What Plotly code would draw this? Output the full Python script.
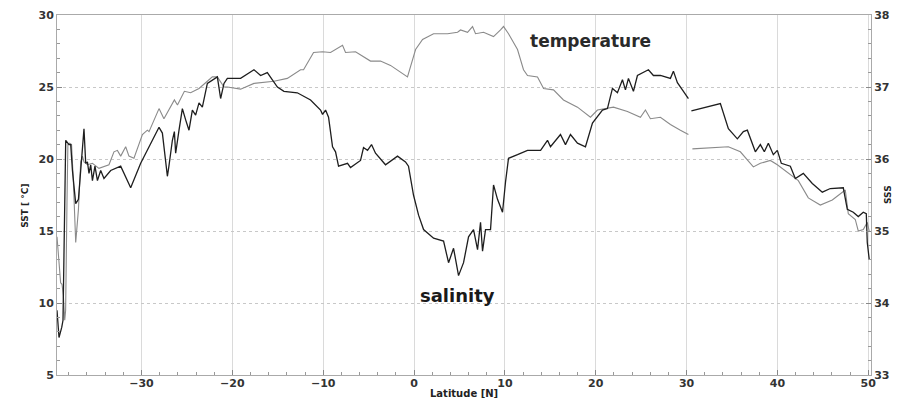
import plotly.graph_objects as go

# ---- data ----
temp_lat = [-39.3, -39.1, -38.9, -38.75, -38.6, -38.45, -38.35, -38.2, -38.1, -37.9, -37.7, -37.5,
            -37.24, -36.94, -36.69, -36.5, -36.33, -35.95, -35.4, -34.68, -34.13, -33.58, -33.03,
            -32.65, -32.29, -31.74, -31.38, -30.83, -29.9, -29.35, -29.17, -28.62, -28.07, -27.53,
            -26.38, -26.04, -25.28, -24.59, -23.67, -22.75, -22.2, -21.65, -20.92, -20.55, -19.09,
            -17.62, -15.42, -13.95, -12.49, -12.16, -11.39, -11.06, -10.07, -9.19, -7.87, -7.54,
            -6.44, -4.79, -3.69, -2.59, -0.72, 0.17, 0.94, 2.15, 3.69, 4.79, 5.12, 5.89, 6.44, 6.77,
            7.65, 8.75, 9.52, 9.85, 10.4, 11.39, 12.05, 12.49, 13.59, 14.26, 15.35, 16.45, 17.99,
            19.42, 20.19, 21.29, 21.95, 23.49, 24.92, 25.47, 26.02, 27.12, 28.22, 29.32, 30.2,
            30.4,
            30.64, 33.72, 34.6, 35.92, 37.35, 38.12, 39.22, 39.99, 41.09, 42.3, 43.4, 44.72, 46.04,
            46.92, 47.47, 47.8, 48.57, 48.9, 49.45, 49.89, 50.1]
temp_val = [14.6, 12.6, 11.4, 11.3, 10.5, 8.8, 9.5, 17.0, 21.0, 21.1, 21.0, 18.5,
            14.2, 16.5, 19.8, 20.2, 19.8, 19.6, 19.7, 19.35, 19.5, 19.6, 20.5,
            20.6, 20.2, 20.85, 20.2, 20.05, 21.7, 22.0, 21.9, 22.7, 23.5, 22.8,
            24.1, 23.75, 24.7, 24.6, 24.9, 25.4, 25.7, 25.7, 25.0, 25.0, 24.85,
            25.25, 25.4, 25.6, 26.2, 26.2, 27.1, 27.4, 27.45, 27.4, 27.9, 27.4,
            27.45, 26.8, 26.8, 26.5, 25.7, 27.6, 28.3, 28.7, 28.7, 28.8, 28.96, 28.8, 29.2, 28.7,
            28.8, 28.5, 28.96, 29.2, 28.7, 27.6, 26.2, 25.8, 25.7, 24.9, 24.8, 24.1, 23.6,
            22.9, 23.4, 23.5, 23.6, 23.3, 22.9, 23.4, 22.8, 22.9, 22.4, 22.0, 21.7,
            None,
            20.7, 20.85, 20.85, 20.5, 19.45, 19.7, 19.9, 19.6, 19.1, 18.5, 17.3, 16.8, 17.15,
            17.6, 17.85, 16.2, 15.8, 15.0, 15.1, 15.6, 15.0]

sal_lat = [-39.3, -39.08, -38.78, -38.64, -38.53, -38.42, -38.34, -37.98, -37.79, -37.6, -37.43,
           -37.24, -36.94, -36.69, -36.5, -36.33, -36.14, -35.95, -35.78, -35.59, -35.4, -35.12,
           -34.85, -34.49, -34.13, -33.39, -32.29, -31.19, -30.09, -29.35, -28.62, -28.07, -27.7,
           -27.34, -27.15, -26.98, -26.6, -26.38, -26.24, -25.87, -25.5, -25.13, -24.77, -24.4,
           -24.04, -23.67, -23.3, -22.75, -22.2, -21.65, -21.29, -20.92, -20.55, -19.09, -17.62,
           -16.89, -16.15, -15.04, -14.32, -12.85, -11.39, -10.29, -10.07, -9.74, -9.41, -8.97,
           -8.64, -8.31, -7.32, -6.99, -5.89, -5.56, -5.12, -4.68, -4.24, -3.14, -1.82, -0.94,
           -0.61, -0.06, 0.5, 1.05, 2.15, 3.25, 3.8, 4.35, 4.9, 5.45, 6.0, 6.55, 6.99, 7.32, 7.54,
           7.87, 8.42, 8.75, 9.19, 9.74, 10.07, 10.4, 11.39, 12.49, 13.93, 14.69, 15.02, 16.12,
           16.67, 17.22, 17.99, 18.87, 19.64, 20.74, 21.29, 21.84, 22.39, 22.94, 23.27, 23.6,
           24.15, 24.59, 25.8, 26.35, 27.12, 28.22, 28.55, 28.99, 29.54, 30.2,
           30.4,
           30.53, 33.72, 34.6, 35.59, 36.25, 36.69, 37.57, 38.12, 38.56, 39.0, 39.55, 39.99,
           40.43, 41.42, 41.97, 42.85, 43.84, 44.94, 45.82, 47.25, 47.69, 48.35, 48.9, 49.45,
           49.78, 49.89, 50.11]
sal_val = [33.90, 33.52, 33.66, 33.76, 34.70, 35.62, 36.26, 36.20, 36.20, 35.84, 35.62,
           35.38, 35.44, 35.84, 36.08, 36.42, 35.94, 35.96, 35.80, 35.92, 35.70, 35.90,
           35.70, 35.84, 35.73, 35.84, 35.90, 35.60, 35.94, 36.12, 36.30, 36.44, 36.36,
           35.92, 35.76, 35.90, 36.26, 36.38, 36.08, 36.40, 36.70, 36.54, 36.40, 36.68,
           36.61, 36.78, 36.72, 37.05, 37.10, 37.14, 36.84, 37.05, 37.12, 37.12, 37.24,
           37.16, 37.20, 37.00, 36.94, 36.92, 36.82, 36.68, 36.62, 36.68, 36.58, 36.17,
           36.10, 35.90, 35.94, 35.88, 35.98, 36.16, 36.12, 36.20, 36.08, 35.92, 36.04, 35.96,
           35.90, 35.50, 35.22, 35.02, 34.90, 34.86, 34.56, 34.76, 34.38, 34.56, 34.92, 35.02, 34.74, 35.12, 34.72,
           35.02, 35.02, 35.64, 35.44, 35.26, 35.68, 36.01, 36.06, 36.12, 36.12, 36.26, 36.17, 36.34,
           36.20, 36.34, 36.22, 36.17, 36.50, 36.68, 36.70, 36.98, 36.92, 37.10, 36.96, 37.12,
           36.94, 37.16, 37.24, 37.16, 37.16, 37.12, 37.22, 37.06, 36.96, 36.84,
           None,
           36.67, 36.77, 36.42, 36.28, 36.38, 36.40, 36.10, 36.20, 36.10, 36.22, 36.06, 36.12,
           35.94, 35.90, 35.73, 35.80, 35.66, 35.54, 35.59, 35.60, 35.30, 35.26, 35.20, 35.26,
           35.24, 34.84, 34.60]

x_ticks = [-30, -20, -10, 0, 10, 20, 30, 40, 50]
sst_ticks = [5, 10, 15, 20, 25, 30]
sss_ticks = [33, 34, 35, 36, 37, 38]

FONT = "DejaVu Sans"
tickfont = dict(family=FONT, size=11, color="#333333", weight="bold")

fig = go.Figure()
fig.add_trace(go.Scatter(x=temp_lat, y=temp_val, mode="lines", name="temperature",
                         line=dict(color="#8a8a8a", width=1.1), connectgaps=False))
fig.add_trace(go.Scatter(x=sal_lat, y=sal_val, mode="lines", name="salinity", yaxis="y2",
                         line=dict(color="#1e1e1e", width=1.3), connectgaps=False))

fig.update_layout(
    width=910, height=398,
    margin=dict(l=57, r=39, t=15, b=23, autoexpand=False),
    paper_bgcolor="white", plot_bgcolor="white",
    showlegend=False,
    xaxis=dict(range=[-39.3, 50.3], tickvals=x_ticks, ticks="inside", ticklen=5,
               tickcolor="#888", showline=True, linecolor="#aaaaaa", linewidth=1, mirror=True,
               showgrid=True, gridcolor="#dadada", gridwidth=1,
               zeroline=False, tickfont=tickfont, automargin=False, ticklabelstandoff=-2,
               minor=dict(dtick=2, tick0=0, ticks="inside", ticklen=3, tickcolor="#999", showgrid=False)),
    yaxis=dict(range=[5, 30], tickvals=sst_ticks, ticks="inside", ticklen=5, tickcolor="#888",
               showline=True, linecolor="#aaaaaa", linewidth=1,
               showgrid=True, gridcolor="#c8c8c8", gridwidth=1, griddash="dot",
               zeroline=False, tickfont=tickfont, automargin=False,
               minor=dict(dtick=1, tick0=0, ticks="inside", ticklen=3, tickcolor="#999", showgrid=False)),
    yaxis2=dict(range=[33, 38], tickvals=sss_ticks, overlaying="y", side="right",
                ticks="inside", ticklen=5, tickcolor="#888",
                showline=True, linecolor="#aaaaaa", linewidth=1,
                showgrid=False, zeroline=False, tickfont=tickfont, automargin=False,
                minor=dict(dtick=0.2, tick0=0, ticks="inside", ticklen=3, tickcolor="#999", showgrid=False)),
    annotations=[
        dict(text="temperature", x=19.4, y=28.2, xref="x", yref="y", showarrow=False,
             font=dict(family=FONT, size=17, color="#2a2a2a", weight="bold")),
        dict(text="salinity", x=4.8, y=10.55, xref="x", yref="y", showarrow=False,
             font=dict(family=FONT, size=18, color="#1a1a1a", weight="bold")),
        dict(text="Latitude [N]", x=0.5, y=0, xref="paper", yref="paper", yanchor="middle",
             yshift=-18, showarrow=False,
             font=dict(family=FONT, size=10, color="#222", weight="bold")),
        dict(text="SST [ °C]", x=0, y=0.47, xref="paper", yref="paper", xshift=-39,
             textangle=-90, showarrow=False,
             font=dict(family=FONT, size=9, color="#222", weight="bold")),
        dict(text="SSS", x=1, y=0.5, xref="paper", yref="paper", xshift=24,
             textangle=-90, showarrow=False,
             font=dict(family=FONT, size=9, color="#222", weight="bold")),
    ],
)

fig.write_html("out.html", config={"displayModeBar": False},
               post_script="document.body.style.margin='0';")
